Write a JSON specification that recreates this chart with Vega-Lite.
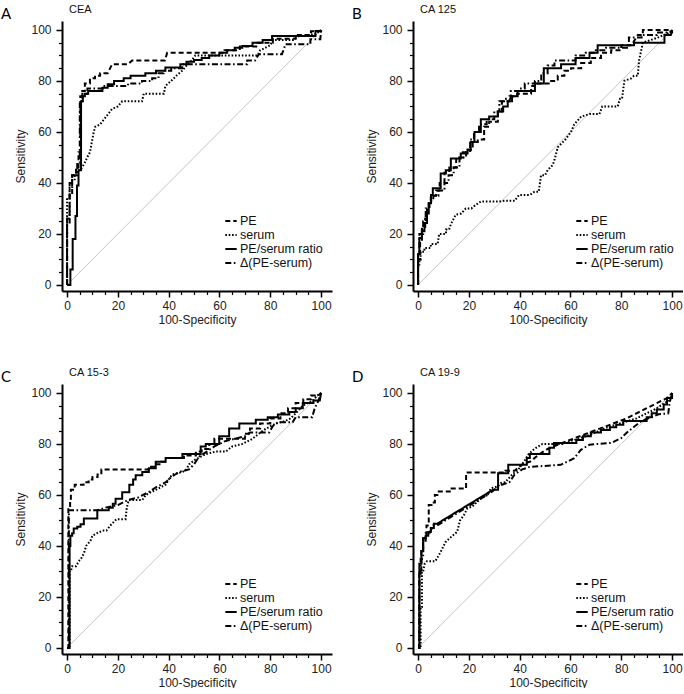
{
"$schema": "https://vega.github.io/schema/vega-lite/v6.json",
"padding": {"left": 0, "top": 4, "right": 0, "bottom": 0},
"background": "white",
"config": {"view": {"stroke": null}, "font": "Liberation Sans"},
"datasets": {
"roc": [
{"p":"A","s":"PE","x":0,"y":0},{"p":"A","s":"PE","x":0,"y":24},{"p":"A","s":"PE","x":1,"y":24},{"p":"A","s":"PE","x":1,"y":35},{"p":"A","s":"PE","x":2,"y":35},{"p":"A","s":"PE","x":2,"y":43},{"p":"A","s":"PE","x":3.5,"y":43},{"p":"A","s":"PE","x":3.5,"y":46},{"p":"A","s":"PE","x":4.5,"y":46},{"p":"A","s":"PE","x":4.5,"y":52},{"p":"A","s":"PE","x":5.2,"y":52},{"p":"A","s":"PE","x":5.2,"y":74},{"p":"A","s":"PE","x":6,"y":74},{"p":"A","s":"PE","x":6,"y":76},{"p":"A","s":"PE","x":7,"y":76},{"p":"A","s":"PE","x":7,"y":79},{"p":"A","s":"PE","x":9,"y":79},{"p":"A","s":"PE","x":9,"y":81},{"p":"A","s":"PE","x":11,"y":81},{"p":"A","s":"PE","x":11,"y":82},{"p":"A","s":"PE","x":13,"y":82},{"p":"A","s":"PE","x":13,"y":83},{"p":"A","s":"PE","x":16,"y":83},{"p":"A","s":"PE","x":17.7,"y":86.5},{"p":"A","s":"PE","x":24,"y":86.5},{"p":"A","s":"PE","x":25.6,"y":88},{"p":"A","s":"PE","x":38.5,"y":88},{"p":"A","s":"PE","x":39.4,"y":91},{"p":"A","s":"PE","x":62,"y":91},{"p":"A","s":"PE","x":62,"y":92},{"p":"A","s":"PE","x":68,"y":92},{"p":"A","s":"PE","x":68,"y":93.5},{"p":"A","s":"PE","x":75,"y":93.5},{"p":"A","s":"PE","x":75,"y":95},{"p":"A","s":"PE","x":81,"y":95},{"p":"A","s":"PE","x":81,"y":96.5},{"p":"A","s":"PE","x":90,"y":96.5},{"p":"A","s":"PE","x":90,"y":98},{"p":"A","s":"PE","x":96,"y":98},{"p":"A","s":"PE","x":96,"y":99.5},{"p":"A","s":"PE","x":100,"y":99.5},{"p":"A","s":"PE","x":100,"y":100},
{"p":"A","s":"serum","x":0,"y":0},{"p":"A","s":"serum","x":0,"y":34},{"p":"A","s":"serum","x":1,"y":34},{"p":"A","s":"serum","x":1,"y":38},{"p":"A","s":"serum","x":2,"y":38},{"p":"A","s":"serum","x":2,"y":41},{"p":"A","s":"serum","x":3,"y":41},{"p":"A","s":"serum","x":3,"y":43},{"p":"A","s":"serum","x":4,"y":43},{"p":"A","s":"serum","x":4,"y":45},{"p":"A","s":"serum","x":5,"y":45},{"p":"A","s":"serum","x":5.9,"y":46},{"p":"A","s":"serum","x":7,"y":48},{"p":"A","s":"serum","x":7.9,"y":50},{"p":"A","s":"serum","x":9,"y":52},{"p":"A","s":"serum","x":10.5,"y":60},{"p":"A","s":"serum","x":11.1,"y":62},{"p":"A","s":"serum","x":13,"y":63},{"p":"A","s":"serum","x":15,"y":65.5},{"p":"A","s":"serum","x":17.7,"y":69},{"p":"A","s":"serum","x":20,"y":70},{"p":"A","s":"serum","x":21.7,"y":72},{"p":"A","s":"serum","x":29.5,"y":72},{"p":"A","s":"serum","x":30.2,"y":75},{"p":"A","s":"serum","x":38.1,"y":75},{"p":"A","s":"serum","x":38.7,"y":78},{"p":"A","s":"serum","x":41,"y":80},{"p":"A","s":"serum","x":43,"y":82},{"p":"A","s":"serum","x":45.3,"y":84},{"p":"A","s":"serum","x":47,"y":86},{"p":"A","s":"serum","x":49,"y":88},{"p":"A","s":"serum","x":50.5,"y":90},{"p":"A","s":"serum","x":75,"y":90},{"p":"A","s":"serum","x":76,"y":92},{"p":"A","s":"serum","x":78,"y":93},{"p":"A","s":"serum","x":80,"y":94},{"p":"A","s":"serum","x":81,"y":96},{"p":"A","s":"serum","x":89,"y":96},{"p":"A","s":"serum","x":91,"y":97.5},{"p":"A","s":"serum","x":95,"y":98},{"p":"A","s":"serum","x":98,"y":98.5},{"p":"A","s":"serum","x":100,"y":100},
{"p":"A","s":"PE/serum ratio","x":0,"y":0},{"p":"A","s":"PE/serum ratio","x":1.3,"y":0},{"p":"A","s":"PE/serum ratio","x":1.3,"y":6},{"p":"A","s":"PE/serum ratio","x":2.2,"y":6},{"p":"A","s":"PE/serum ratio","x":2.2,"y":18},{"p":"A","s":"PE/serum ratio","x":3.3,"y":18},{"p":"A","s":"PE/serum ratio","x":3.3,"y":27},{"p":"A","s":"PE/serum ratio","x":3.9,"y":27},{"p":"A","s":"PE/serum ratio","x":3.9,"y":39},{"p":"A","s":"PE/serum ratio","x":4.5,"y":39},{"p":"A","s":"PE/serum ratio","x":4.5,"y":45},{"p":"A","s":"PE/serum ratio","x":5.5,"y":45},{"p":"A","s":"PE/serum ratio","x":5.5,"y":72},{"p":"A","s":"PE/serum ratio","x":6.2,"y":72},{"p":"A","s":"PE/serum ratio","x":6.2,"y":74},{"p":"A","s":"PE/serum ratio","x":7,"y":74},{"p":"A","s":"PE/serum ratio","x":7,"y":75},{"p":"A","s":"PE/serum ratio","x":8.3,"y":75},{"p":"A","s":"PE/serum ratio","x":8.3,"y":76},{"p":"A","s":"PE/serum ratio","x":13.9,"y":76},{"p":"A","s":"PE/serum ratio","x":13.9,"y":77.3},{"p":"A","s":"PE/serum ratio","x":16,"y":77.3},{"p":"A","s":"PE/serum ratio","x":16,"y":78.7},{"p":"A","s":"PE/serum ratio","x":18.5,"y":78.7},{"p":"A","s":"PE/serum ratio","x":18.5,"y":80},{"p":"A","s":"PE/serum ratio","x":22.3,"y":80},{"p":"A","s":"PE/serum ratio","x":22.3,"y":81},{"p":"A","s":"PE/serum ratio","x":25,"y":81},{"p":"A","s":"PE/serum ratio","x":25,"y":82},{"p":"A","s":"PE/serum ratio","x":30.8,"y":82},{"p":"A","s":"PE/serum ratio","x":30.8,"y":83},{"p":"A","s":"PE/serum ratio","x":35,"y":83},{"p":"A","s":"PE/serum ratio","x":35,"y":84},{"p":"A","s":"PE/serum ratio","x":38.7,"y":84},{"p":"A","s":"PE/serum ratio","x":38.7,"y":85.3},{"p":"A","s":"PE/serum ratio","x":44.6,"y":85.3},{"p":"A","s":"PE/serum ratio","x":44.6,"y":86.5},{"p":"A","s":"PE/serum ratio","x":47,"y":86.5},{"p":"A","s":"PE/serum ratio","x":47,"y":87.5},{"p":"A","s":"PE/serum ratio","x":50,"y":87.5},{"p":"A","s":"PE/serum ratio","x":50,"y":88.2},{"p":"A","s":"PE/serum ratio","x":53,"y":88.2},{"p":"A","s":"PE/serum ratio","x":53,"y":89},{"p":"A","s":"PE/serum ratio","x":56,"y":89},{"p":"A","s":"PE/serum ratio","x":56,"y":90},{"p":"A","s":"PE/serum ratio","x":60,"y":90},{"p":"A","s":"PE/serum ratio","x":60,"y":91},{"p":"A","s":"PE/serum ratio","x":63,"y":91},{"p":"A","s":"PE/serum ratio","x":63,"y":92},{"p":"A","s":"PE/serum ratio","x":66,"y":92},{"p":"A","s":"PE/serum ratio","x":66,"y":93},{"p":"A","s":"PE/serum ratio","x":69,"y":93},{"p":"A","s":"PE/serum ratio","x":69,"y":93.7},{"p":"A","s":"PE/serum ratio","x":73,"y":93.7},{"p":"A","s":"PE/serum ratio","x":73,"y":95},{"p":"A","s":"PE/serum ratio","x":77,"y":95},{"p":"A","s":"PE/serum ratio","x":77,"y":96},{"p":"A","s":"PE/serum ratio","x":80.7,"y":96},{"p":"A","s":"PE/serum ratio","x":80.7,"y":97.6},{"p":"A","s":"PE/serum ratio","x":97.8,"y":97.6},{"p":"A","s":"PE/serum ratio","x":97.8,"y":99.6},{"p":"A","s":"PE/serum ratio","x":100,"y":99.6},{"p":"A","s":"PE/serum ratio","x":100,"y":100},
{"p":"A","s":"Δ(PE-serum)","x":0,"y":0},{"p":"A","s":"Δ(PE-serum)","x":0,"y":26},{"p":"A","s":"Δ(PE-serum)","x":1,"y":26},{"p":"A","s":"Δ(PE-serum)","x":1,"y":40},{"p":"A","s":"Δ(PE-serum)","x":2,"y":40},{"p":"A","s":"Δ(PE-serum)","x":2,"y":43},{"p":"A","s":"Δ(PE-serum)","x":4,"y":43},{"p":"A","s":"Δ(PE-serum)","x":4,"y":48},{"p":"A","s":"Δ(PE-serum)","x":5,"y":48},{"p":"A","s":"Δ(PE-serum)","x":5,"y":72},{"p":"A","s":"Δ(PE-serum)","x":6,"y":72},{"p":"A","s":"Δ(PE-serum)","x":6,"y":75},{"p":"A","s":"Δ(PE-serum)","x":8,"y":75},{"p":"A","s":"Δ(PE-serum)","x":8,"y":77},{"p":"A","s":"Δ(PE-serum)","x":14,"y":77},{"p":"A","s":"Δ(PE-serum)","x":14,"y":78},{"p":"A","s":"Δ(PE-serum)","x":24,"y":78},{"p":"A","s":"Δ(PE-serum)","x":24,"y":79},{"p":"A","s":"Δ(PE-serum)","x":29.5,"y":79},{"p":"A","s":"Δ(PE-serum)","x":29.5,"y":80},{"p":"A","s":"Δ(PE-serum)","x":33.5,"y":80},{"p":"A","s":"Δ(PE-serum)","x":33.5,"y":81},{"p":"A","s":"Δ(PE-serum)","x":36,"y":81},{"p":"A","s":"Δ(PE-serum)","x":36,"y":83},{"p":"A","s":"Δ(PE-serum)","x":38,"y":83},{"p":"A","s":"Δ(PE-serum)","x":38,"y":84},{"p":"A","s":"Δ(PE-serum)","x":41,"y":84},{"p":"A","s":"Δ(PE-serum)","x":41,"y":85},{"p":"A","s":"Δ(PE-serum)","x":45.3,"y":85},{"p":"A","s":"Δ(PE-serum)","x":45.3,"y":86.5},{"p":"A","s":"Δ(PE-serum)","x":70.9,"y":86.5},{"p":"A","s":"Δ(PE-serum)","x":70.9,"y":88},{"p":"A","s":"Δ(PE-serum)","x":74,"y":88},{"p":"A","s":"Δ(PE-serum)","x":75.5,"y":90.5},{"p":"A","s":"Δ(PE-serum)","x":84.6,"y":90.5},{"p":"A","s":"Δ(PE-serum)","x":86,"y":94.4},{"p":"A","s":"Δ(PE-serum)","x":95.8,"y":94.4},{"p":"A","s":"Δ(PE-serum)","x":95.8,"y":96.3},{"p":"A","s":"Δ(PE-serum)","x":99.7,"y":96.3},{"p":"A","s":"Δ(PE-serum)","x":100,"y":100},

{"p":"B","s":"PE","x":0,"y":0},{"p":"B","s":"PE","x":0,"y":10},{"p":"B","s":"PE","x":0.8,"y":10},{"p":"B","s":"PE","x":0.8,"y":17},{"p":"B","s":"PE","x":1.5,"y":17},{"p":"B","s":"PE","x":1.5,"y":22},{"p":"B","s":"PE","x":2.8,"y":22},{"p":"B","s":"PE","x":2.8,"y":26},{"p":"B","s":"PE","x":3.5,"y":26},{"p":"B","s":"PE","x":3.5,"y":30},{"p":"B","s":"PE","x":4.2,"y":30},{"p":"B","s":"PE","x":4.2,"y":33},{"p":"B","s":"PE","x":5,"y":33},{"p":"B","s":"PE","x":5,"y":35},{"p":"B","s":"PE","x":7.1,"y":35},{"p":"B","s":"PE","x":7.1,"y":37},{"p":"B","s":"PE","x":8.5,"y":37},{"p":"B","s":"PE","x":8.5,"y":40},{"p":"B","s":"PE","x":10.4,"y":40},{"p":"B","s":"PE","x":10.4,"y":44},{"p":"B","s":"PE","x":12.3,"y":44},{"p":"B","s":"PE","x":12.3,"y":46},{"p":"B","s":"PE","x":15,"y":46},{"p":"B","s":"PE","x":15,"y":50},{"p":"B","s":"PE","x":17.6,"y":50},{"p":"B","s":"PE","x":17.6,"y":52},{"p":"B","s":"PE","x":19.5,"y":52},{"p":"B","s":"PE","x":19.5,"y":53},{"p":"B","s":"PE","x":21.5,"y":53},{"p":"B","s":"PE","x":21.5,"y":56},{"p":"B","s":"PE","x":23.5,"y":56},{"p":"B","s":"PE","x":23.5,"y":57},{"p":"B","s":"PE","x":26,"y":57},{"p":"B","s":"PE","x":26,"y":62},{"p":"B","s":"PE","x":28,"y":62},{"p":"B","s":"PE","x":28,"y":64},{"p":"B","s":"PE","x":31.4,"y":64},{"p":"B","s":"PE","x":31.4,"y":68},{"p":"B","s":"PE","x":33,"y":68},{"p":"B","s":"PE","x":33,"y":72},{"p":"B","s":"PE","x":36,"y":72},{"p":"B","s":"PE","x":36,"y":74},{"p":"B","s":"PE","x":39,"y":74},{"p":"B","s":"PE","x":39,"y":75},{"p":"B","s":"PE","x":44.5,"y":75},{"p":"B","s":"PE","x":44.5,"y":78},{"p":"B","s":"PE","x":46,"y":78},{"p":"B","s":"PE","x":46,"y":79},{"p":"B","s":"PE","x":52.4,"y":79},{"p":"B","s":"PE","x":52.4,"y":80},{"p":"B","s":"PE","x":55,"y":80},{"p":"B","s":"PE","x":55,"y":82},{"p":"B","s":"PE","x":57.6,"y":82},{"p":"B","s":"PE","x":57.6,"y":84},{"p":"B","s":"PE","x":60.2,"y":84},{"p":"B","s":"PE","x":60.2,"y":85},{"p":"B","s":"PE","x":64.2,"y":85},{"p":"B","s":"PE","x":64.2,"y":87},{"p":"B","s":"PE","x":68,"y":87},{"p":"B","s":"PE","x":68,"y":89},{"p":"B","s":"PE","x":72,"y":89},{"p":"B","s":"PE","x":72,"y":91},{"p":"B","s":"PE","x":76,"y":91},{"p":"B","s":"PE","x":76,"y":92},{"p":"B","s":"PE","x":80,"y":92},{"p":"B","s":"PE","x":80,"y":94},{"p":"B","s":"PE","x":84,"y":94},{"p":"B","s":"PE","x":86.5,"y":98},{"p":"B","s":"PE","x":88.5,"y":98},{"p":"B","s":"PE","x":88.5,"y":100},{"p":"B","s":"PE","x":100,"y":100},
{"p":"B","s":"serum","x":0,"y":0},{"p":"B","s":"serum","x":0,"y":8},{"p":"B","s":"serum","x":0.5,"y":8},{"p":"B","s":"serum","x":0.5,"y":10},{"p":"B","s":"serum","x":1,"y":10},{"p":"B","s":"serum","x":1,"y":13},{"p":"B","s":"serum","x":2.5,"y":13},{"p":"B","s":"serum","x":2.5,"y":14.5},{"p":"B","s":"serum","x":5,"y":14.5},{"p":"B","s":"serum","x":5,"y":16},{"p":"B","s":"serum","x":7.7,"y":16},{"p":"B","s":"serum","x":8.3,"y":20},{"p":"B","s":"serum","x":11,"y":20},{"p":"B","s":"serum","x":11,"y":21.7},{"p":"B","s":"serum","x":12.2,"y":21.7},{"p":"B","s":"serum","x":13,"y":24},{"p":"B","s":"serum","x":14.8,"y":27.5},{"p":"B","s":"serum","x":17,"y":28},{"p":"B","s":"serum","x":18.8,"y":30},{"p":"B","s":"serum","x":21,"y":30},{"p":"B","s":"serum","x":22.2,"y":31},{"p":"B","s":"serum","x":24.7,"y":32.7},{"p":"B","s":"serum","x":31.9,"y":32.7},{"p":"B","s":"serum","x":34,"y":33},{"p":"B","s":"serum","x":38,"y":33},{"p":"B","s":"serum","x":39.8,"y":35.3},{"p":"B","s":"serum","x":44,"y":35.3},{"p":"B","s":"serum","x":45.8,"y":36.5},{"p":"B","s":"serum","x":47.5,"y":36.5},{"p":"B","s":"serum","x":48.4,"y":43},{"p":"B","s":"serum","x":50,"y":43},{"p":"B","s":"serum","x":51,"y":45},{"p":"B","s":"serum","x":53,"y":47},{"p":"B","s":"serum","x":53.7,"y":49},{"p":"B","s":"serum","x":55,"y":54},{"p":"B","s":"serum","x":57,"y":56},{"p":"B","s":"serum","x":58,"y":57},{"p":"B","s":"serum","x":60.2,"y":60},{"p":"B","s":"serum","x":61.5,"y":63},{"p":"B","s":"serum","x":64.2,"y":66},{"p":"B","s":"serum","x":67.5,"y":67},{"p":"B","s":"serum","x":71.4,"y":67},{"p":"B","s":"serum","x":72.5,"y":70},{"p":"B","s":"serum","x":78.6,"y":70},{"p":"B","s":"serum","x":79.5,"y":73},{"p":"B","s":"serum","x":80.3,"y":73},{"p":"B","s":"serum","x":81.2,"y":80},{"p":"B","s":"serum","x":83.9,"y":81},{"p":"B","s":"serum","x":85,"y":82},{"p":"B","s":"serum","x":86.5,"y":82},{"p":"B","s":"serum","x":87,"y":88},{"p":"B","s":"serum","x":88.5,"y":95},{"p":"B","s":"serum","x":94.4,"y":97},{"p":"B","s":"serum","x":98,"y":98.5},{"p":"B","s":"serum","x":100,"y":100},
{"p":"B","s":"PE/serum ratio","x":0,"y":0},{"p":"B","s":"PE/serum ratio","x":0,"y":12},{"p":"B","s":"PE/serum ratio","x":0.5,"y":12},{"p":"B","s":"PE/serum ratio","x":0.5,"y":18.4},{"p":"B","s":"PE/serum ratio","x":1.5,"y":18.4},{"p":"B","s":"PE/serum ratio","x":1.5,"y":21},{"p":"B","s":"PE/serum ratio","x":2.5,"y":21},{"p":"B","s":"PE/serum ratio","x":2.5,"y":24.3},{"p":"B","s":"PE/serum ratio","x":3.5,"y":24.3},{"p":"B","s":"PE/serum ratio","x":3.5,"y":28},{"p":"B","s":"PE/serum ratio","x":4.2,"y":28},{"p":"B","s":"PE/serum ratio","x":4.2,"y":32},{"p":"B","s":"PE/serum ratio","x":5.1,"y":32},{"p":"B","s":"PE/serum ratio","x":5.1,"y":35.3},{"p":"B","s":"PE/serum ratio","x":5.8,"y":35.3},{"p":"B","s":"PE/serum ratio","x":5.8,"y":37.9},{"p":"B","s":"PE/serum ratio","x":8.9,"y":37.9},{"p":"B","s":"PE/serum ratio","x":8.9,"y":43.7},{"p":"B","s":"PE/serum ratio","x":10.9,"y":43.7},{"p":"B","s":"PE/serum ratio","x":10.9,"y":45},{"p":"B","s":"PE/serum ratio","x":12.9,"y":45},{"p":"B","s":"PE/serum ratio","x":12.9,"y":49.6},{"p":"B","s":"PE/serum ratio","x":16.8,"y":49.6},{"p":"B","s":"PE/serum ratio","x":16.8,"y":51.5},{"p":"B","s":"PE/serum ratio","x":19.5,"y":51.5},{"p":"B","s":"PE/serum ratio","x":19.5,"y":53},{"p":"B","s":"PE/serum ratio","x":20.7,"y":53},{"p":"B","s":"PE/serum ratio","x":20.7,"y":56},{"p":"B","s":"PE/serum ratio","x":22.2,"y":56},{"p":"B","s":"PE/serum ratio","x":22.2,"y":60},{"p":"B","s":"PE/serum ratio","x":24.7,"y":60},{"p":"B","s":"PE/serum ratio","x":24.7,"y":65},{"p":"B","s":"PE/serum ratio","x":28,"y":65},{"p":"B","s":"PE/serum ratio","x":28,"y":66},{"p":"B","s":"PE/serum ratio","x":31.4,"y":66},{"p":"B","s":"PE/serum ratio","x":31.4,"y":68},{"p":"B","s":"PE/serum ratio","x":33.5,"y":68},{"p":"B","s":"PE/serum ratio","x":33.5,"y":70},{"p":"B","s":"PE/serum ratio","x":35.3,"y":70},{"p":"B","s":"PE/serum ratio","x":35.3,"y":72},{"p":"B","s":"PE/serum ratio","x":37,"y":72},{"p":"B","s":"PE/serum ratio","x":37,"y":74},{"p":"B","s":"PE/serum ratio","x":39.2,"y":74},{"p":"B","s":"PE/serum ratio","x":39.2,"y":76},{"p":"B","s":"PE/serum ratio","x":46,"y":76},{"p":"B","s":"PE/serum ratio","x":46,"y":79},{"p":"B","s":"PE/serum ratio","x":49.5,"y":79},{"p":"B","s":"PE/serum ratio","x":49.5,"y":85},{"p":"B","s":"PE/serum ratio","x":56.3,"y":85},{"p":"B","s":"PE/serum ratio","x":56.3,"y":86.5},{"p":"B","s":"PE/serum ratio","x":62,"y":86.5},{"p":"B","s":"PE/serum ratio","x":62,"y":89},{"p":"B","s":"PE/serum ratio","x":67.5,"y":89},{"p":"B","s":"PE/serum ratio","x":67.5,"y":91},{"p":"B","s":"PE/serum ratio","x":70.7,"y":91},{"p":"B","s":"PE/serum ratio","x":70.7,"y":94},{"p":"B","s":"PE/serum ratio","x":85,"y":94},{"p":"B","s":"PE/serum ratio","x":85,"y":95},{"p":"B","s":"PE/serum ratio","x":97,"y":95},{"p":"B","s":"PE/serum ratio","x":97,"y":98},{"p":"B","s":"PE/serum ratio","x":99.5,"y":98},{"p":"B","s":"PE/serum ratio","x":100,"y":100},
{"p":"B","s":"Δ(PE-serum)","x":0,"y":0},{"p":"B","s":"Δ(PE-serum)","x":0,"y":12},{"p":"B","s":"Δ(PE-serum)","x":0.5,"y":12},{"p":"B","s":"Δ(PE-serum)","x":0.5,"y":20},{"p":"B","s":"Δ(PE-serum)","x":2,"y":20},{"p":"B","s":"Δ(PE-serum)","x":2,"y":25},{"p":"B","s":"Δ(PE-serum)","x":3,"y":25},{"p":"B","s":"Δ(PE-serum)","x":3,"y":30},{"p":"B","s":"Δ(PE-serum)","x":4.5,"y":30},{"p":"B","s":"Δ(PE-serum)","x":4.5,"y":33},{"p":"B","s":"Δ(PE-serum)","x":6,"y":33},{"p":"B","s":"Δ(PE-serum)","x":6,"y":35},{"p":"B","s":"Δ(PE-serum)","x":8,"y":35},{"p":"B","s":"Δ(PE-serum)","x":8,"y":37},{"p":"B","s":"Δ(PE-serum)","x":10.4,"y":37},{"p":"B","s":"Δ(PE-serum)","x":10.4,"y":40},{"p":"B","s":"Δ(PE-serum)","x":12,"y":40},{"p":"B","s":"Δ(PE-serum)","x":12,"y":43},{"p":"B","s":"Δ(PE-serum)","x":14,"y":43},{"p":"B","s":"Δ(PE-serum)","x":14,"y":46},{"p":"B","s":"Δ(PE-serum)","x":16.3,"y":46},{"p":"B","s":"Δ(PE-serum)","x":16.3,"y":50},{"p":"B","s":"Δ(PE-serum)","x":18.9,"y":50},{"p":"B","s":"Δ(PE-serum)","x":18.9,"y":52},{"p":"B","s":"Δ(PE-serum)","x":20.5,"y":52},{"p":"B","s":"Δ(PE-serum)","x":20.5,"y":57},{"p":"B","s":"Δ(PE-serum)","x":22,"y":57},{"p":"B","s":"Δ(PE-serum)","x":22,"y":60},{"p":"B","s":"Δ(PE-serum)","x":24,"y":60},{"p":"B","s":"Δ(PE-serum)","x":24,"y":63},{"p":"B","s":"Δ(PE-serum)","x":27,"y":63},{"p":"B","s":"Δ(PE-serum)","x":27,"y":65},{"p":"B","s":"Δ(PE-serum)","x":30,"y":65},{"p":"B","s":"Δ(PE-serum)","x":30,"y":68},{"p":"B","s":"Δ(PE-serum)","x":32,"y":68},{"p":"B","s":"Δ(PE-serum)","x":32,"y":72},{"p":"B","s":"Δ(PE-serum)","x":34.6,"y":72},{"p":"B","s":"Δ(PE-serum)","x":34.6,"y":73},{"p":"B","s":"Δ(PE-serum)","x":36.5,"y":73},{"p":"B","s":"Δ(PE-serum)","x":36.5,"y":76},{"p":"B","s":"Δ(PE-serum)","x":40,"y":76},{"p":"B","s":"Δ(PE-serum)","x":40,"y":77},{"p":"B","s":"Δ(PE-serum)","x":42,"y":77},{"p":"B","s":"Δ(PE-serum)","x":42,"y":79},{"p":"B","s":"Δ(PE-serum)","x":46,"y":79},{"p":"B","s":"Δ(PE-serum)","x":46,"y":80},{"p":"B","s":"Δ(PE-serum)","x":48.5,"y":80},{"p":"B","s":"Δ(PE-serum)","x":48.5,"y":83},{"p":"B","s":"Δ(PE-serum)","x":51,"y":83},{"p":"B","s":"Δ(PE-serum)","x":51,"y":86},{"p":"B","s":"Δ(PE-serum)","x":53.7,"y":86},{"p":"B","s":"Δ(PE-serum)","x":53.7,"y":88},{"p":"B","s":"Δ(PE-serum)","x":62,"y":88},{"p":"B","s":"Δ(PE-serum)","x":62,"y":90},{"p":"B","s":"Δ(PE-serum)","x":66,"y":90},{"p":"B","s":"Δ(PE-serum)","x":66,"y":91},{"p":"B","s":"Δ(PE-serum)","x":70,"y":91},{"p":"B","s":"Δ(PE-serum)","x":70,"y":92},{"p":"B","s":"Δ(PE-serum)","x":74,"y":92},{"p":"B","s":"Δ(PE-serum)","x":74,"y":93},{"p":"B","s":"Δ(PE-serum)","x":83,"y":93},{"p":"B","s":"Δ(PE-serum)","x":83,"y":97},{"p":"B","s":"Δ(PE-serum)","x":88,"y":97},{"p":"B","s":"Δ(PE-serum)","x":88,"y":98},{"p":"B","s":"Δ(PE-serum)","x":94,"y":98},{"p":"B","s":"Δ(PE-serum)","x":94,"y":99},{"p":"B","s":"Δ(PE-serum)","x":100,"y":99},{"p":"B","s":"Δ(PE-serum)","x":100,"y":100},

{"p":"C","s":"PE","x":0,"y":0},{"p":"C","s":"PE","x":0.5,"y":0},{"p":"C","s":"PE","x":0.5,"y":55},{"p":"C","s":"PE","x":1.2,"y":55},{"p":"C","s":"PE","x":1.2,"y":58},{"p":"C","s":"PE","x":1.5,"y":58},{"p":"C","s":"PE","x":1.5,"y":62},{"p":"C","s":"PE","x":3,"y":62},{"p":"C","s":"PE","x":3,"y":64},{"p":"C","s":"PE","x":6.5,"y":64},{"p":"C","s":"PE","x":6.5,"y":65},{"p":"C","s":"PE","x":8.5,"y":65},{"p":"C","s":"PE","x":8.5,"y":66},{"p":"C","s":"PE","x":10,"y":66},{"p":"C","s":"PE","x":10,"y":67},{"p":"C","s":"PE","x":12,"y":67},{"p":"C","s":"PE","x":12,"y":68},{"p":"C","s":"PE","x":13.5,"y":68},{"p":"C","s":"PE","x":13.5,"y":70},{"p":"C","s":"PE","x":32,"y":70},{"p":"C","s":"PE","x":32,"y":71},{"p":"C","s":"PE","x":35,"y":71},{"p":"C","s":"PE","x":35,"y":72},{"p":"C","s":"PE","x":37,"y":72},{"p":"C","s":"PE","x":37,"y":73},{"p":"C","s":"PE","x":39,"y":73},{"p":"C","s":"PE","x":39,"y":74.5},{"p":"C","s":"PE","x":46,"y":74.5},{"p":"C","s":"PE","x":46,"y":75.5},{"p":"C","s":"PE","x":50.7,"y":75.5},{"p":"C","s":"PE","x":50.7,"y":77},{"p":"C","s":"PE","x":53,"y":77},{"p":"C","s":"PE","x":53,"y":78},{"p":"C","s":"PE","x":56,"y":78},{"p":"C","s":"PE","x":56,"y":80},{"p":"C","s":"PE","x":58,"y":80},{"p":"C","s":"PE","x":58,"y":82},{"p":"C","s":"PE","x":70,"y":82},{"p":"C","s":"PE","x":70,"y":84},{"p":"C","s":"PE","x":72,"y":84},{"p":"C","s":"PE","x":72,"y":86},{"p":"C","s":"PE","x":76,"y":86},{"p":"C","s":"PE","x":76,"y":88},{"p":"C","s":"PE","x":80,"y":88},{"p":"C","s":"PE","x":80,"y":90},{"p":"C","s":"PE","x":84,"y":90},{"p":"C","s":"PE","x":84,"y":92},{"p":"C","s":"PE","x":87,"y":92},{"p":"C","s":"PE","x":87,"y":94},{"p":"C","s":"PE","x":90,"y":94},{"p":"C","s":"PE","x":90,"y":96},{"p":"C","s":"PE","x":93,"y":96},{"p":"C","s":"PE","x":93,"y":97.5},{"p":"C","s":"PE","x":96,"y":97.5},{"p":"C","s":"PE","x":96,"y":99},{"p":"C","s":"PE","x":99,"y":99},{"p":"C","s":"PE","x":100,"y":100},
{"p":"C","s":"serum","x":0,"y":0},{"p":"C","s":"serum","x":1,"y":0},{"p":"C","s":"serum","x":1,"y":30},{"p":"C","s":"serum","x":1.5,"y":30},{"p":"C","s":"serum","x":2,"y":32},{"p":"C","s":"serum","x":3.5,"y":32},{"p":"C","s":"serum","x":4.6,"y":34},{"p":"C","s":"serum","x":5.5,"y":35},{"p":"C","s":"serum","x":6.6,"y":37},{"p":"C","s":"serum","x":7.5,"y":40},{"p":"C","s":"serum","x":9.2,"y":42},{"p":"C","s":"serum","x":10,"y":44},{"p":"C","s":"serum","x":11.8,"y":45},{"p":"C","s":"serum","x":14,"y":46},{"p":"C","s":"serum","x":15.5,"y":46},{"p":"C","s":"serum","x":17,"y":48},{"p":"C","s":"serum","x":19,"y":50},{"p":"C","s":"serum","x":19.5,"y":50.5},{"p":"C","s":"serum","x":23,"y":50.5},{"p":"C","s":"serum","x":23.5,"y":55},{"p":"C","s":"serum","x":24.3,"y":58},{"p":"C","s":"serum","x":29.6,"y":58},{"p":"C","s":"serum","x":31,"y":60},{"p":"C","s":"serum","x":34.9,"y":62},{"p":"C","s":"serum","x":38.8,"y":64},{"p":"C","s":"serum","x":40,"y":66},{"p":"C","s":"serum","x":41.4,"y":68},{"p":"C","s":"serum","x":45.4,"y":69},{"p":"C","s":"serum","x":47,"y":70},{"p":"C","s":"serum","x":48,"y":72},{"p":"C","s":"serum","x":50.7,"y":74},{"p":"C","s":"serum","x":54.6,"y":76},{"p":"C","s":"serum","x":58.6,"y":77},{"p":"C","s":"serum","x":62.5,"y":77},{"p":"C","s":"serum","x":65,"y":79},{"p":"C","s":"serum","x":69,"y":80},{"p":"C","s":"serum","x":73,"y":82},{"p":"C","s":"serum","x":75.5,"y":84},{"p":"C","s":"serum","x":78.3,"y":86},{"p":"C","s":"serum","x":82.2,"y":88},{"p":"C","s":"serum","x":86,"y":89},{"p":"C","s":"serum","x":88,"y":90},{"p":"C","s":"serum","x":90,"y":92},{"p":"C","s":"serum","x":92.8,"y":95},{"p":"C","s":"serum","x":96.7,"y":97},{"p":"C","s":"serum","x":98.5,"y":99},{"p":"C","s":"serum","x":100,"y":100},
{"p":"C","s":"PE/serum ratio","x":0,"y":0},{"p":"C","s":"PE/serum ratio","x":1,"y":0},{"p":"C","s":"PE/serum ratio","x":1,"y":40},{"p":"C","s":"PE/serum ratio","x":1.3,"y":40},{"p":"C","s":"PE/serum ratio","x":1.3,"y":44},{"p":"C","s":"PE/serum ratio","x":2,"y":44},{"p":"C","s":"PE/serum ratio","x":2,"y":45},{"p":"C","s":"PE/serum ratio","x":2.6,"y":45},{"p":"C","s":"PE/serum ratio","x":2.6,"y":46.8},{"p":"C","s":"PE/serum ratio","x":4,"y":46.8},{"p":"C","s":"PE/serum ratio","x":4,"y":47.5},{"p":"C","s":"PE/serum ratio","x":5.3,"y":47.5},{"p":"C","s":"PE/serum ratio","x":5.3,"y":48.5},{"p":"C","s":"PE/serum ratio","x":6.6,"y":48.5},{"p":"C","s":"PE/serum ratio","x":6.6,"y":50.7},{"p":"C","s":"PE/serum ratio","x":11.9,"y":50.7},{"p":"C","s":"PE/serum ratio","x":11.9,"y":54},{"p":"C","s":"PE/serum ratio","x":16.4,"y":54},{"p":"C","s":"PE/serum ratio","x":16.4,"y":55},{"p":"C","s":"PE/serum ratio","x":18,"y":55},{"p":"C","s":"PE/serum ratio","x":18,"y":56.5},{"p":"C","s":"PE/serum ratio","x":19.1,"y":56.5},{"p":"C","s":"PE/serum ratio","x":19.1,"y":58.5},{"p":"C","s":"PE/serum ratio","x":21.7,"y":58.5},{"p":"C","s":"PE/serum ratio","x":21.7,"y":61},{"p":"C","s":"PE/serum ratio","x":24.5,"y":61},{"p":"C","s":"PE/serum ratio","x":24.5,"y":64},{"p":"C","s":"PE/serum ratio","x":26,"y":64},{"p":"C","s":"PE/serum ratio","x":26,"y":66},{"p":"C","s":"PE/serum ratio","x":27,"y":66},{"p":"C","s":"PE/serum ratio","x":27,"y":67.7},{"p":"C","s":"PE/serum ratio","x":29.6,"y":67.7},{"p":"C","s":"PE/serum ratio","x":29.6,"y":69},{"p":"C","s":"PE/serum ratio","x":32.2,"y":69},{"p":"C","s":"PE/serum ratio","x":32.2,"y":70.5},{"p":"C","s":"PE/serum ratio","x":34.9,"y":70.5},{"p":"C","s":"PE/serum ratio","x":34.9,"y":73},{"p":"C","s":"PE/serum ratio","x":38.8,"y":73},{"p":"C","s":"PE/serum ratio","x":38.8,"y":74.5},{"p":"C","s":"PE/serum ratio","x":45.4,"y":74.5},{"p":"C","s":"PE/serum ratio","x":45.4,"y":76},{"p":"C","s":"PE/serum ratio","x":52.6,"y":76},{"p":"C","s":"PE/serum ratio","x":52.6,"y":79},{"p":"C","s":"PE/serum ratio","x":54.6,"y":79},{"p":"C","s":"PE/serum ratio","x":54.6,"y":80},{"p":"C","s":"PE/serum ratio","x":59.9,"y":80},{"p":"C","s":"PE/serum ratio","x":59.9,"y":83},{"p":"C","s":"PE/serum ratio","x":63.8,"y":83},{"p":"C","s":"PE/serum ratio","x":63.8,"y":86},{"p":"C","s":"PE/serum ratio","x":67.8,"y":86},{"p":"C","s":"PE/serum ratio","x":67.8,"y":88},{"p":"C","s":"PE/serum ratio","x":74.3,"y":88},{"p":"C","s":"PE/serum ratio","x":74.3,"y":89.5},{"p":"C","s":"PE/serum ratio","x":79,"y":89.5},{"p":"C","s":"PE/serum ratio","x":79,"y":90.5},{"p":"C","s":"PE/serum ratio","x":83,"y":90.5},{"p":"C","s":"PE/serum ratio","x":83,"y":91.5},{"p":"C","s":"PE/serum ratio","x":87.5,"y":91.5},{"p":"C","s":"PE/serum ratio","x":87.5,"y":92.5},{"p":"C","s":"PE/serum ratio","x":90,"y":92.5},{"p":"C","s":"PE/serum ratio","x":90,"y":94},{"p":"C","s":"PE/serum ratio","x":92.8,"y":94},{"p":"C","s":"PE/serum ratio","x":92.8,"y":96},{"p":"C","s":"PE/serum ratio","x":97,"y":96},{"p":"C","s":"PE/serum ratio","x":97,"y":97},{"p":"C","s":"PE/serum ratio","x":99.5,"y":97},{"p":"C","s":"PE/serum ratio","x":100,"y":100},
{"p":"C","s":"Δ(PE-serum)","x":0,"y":0},{"p":"C","s":"Δ(PE-serum)","x":0.7,"y":0},{"p":"C","s":"Δ(PE-serum)","x":0.7,"y":54},{"p":"C","s":"Δ(PE-serum)","x":11.9,"y":54},{"p":"C","s":"Δ(PE-serum)","x":15,"y":55},{"p":"C","s":"Δ(PE-serum)","x":20,"y":56},{"p":"C","s":"Δ(PE-serum)","x":24,"y":58},{"p":"C","s":"Δ(PE-serum)","x":28,"y":59},{"p":"C","s":"Δ(PE-serum)","x":32.3,"y":61.2},{"p":"C","s":"Δ(PE-serum)","x":35,"y":63},{"p":"C","s":"Δ(PE-serum)","x":38.9,"y":65},{"p":"C","s":"Δ(PE-serum)","x":41,"y":67},{"p":"C","s":"Δ(PE-serum)","x":44.1,"y":69},{"p":"C","s":"Δ(PE-serum)","x":48,"y":70},{"p":"C","s":"Δ(PE-serum)","x":50,"y":72},{"p":"C","s":"Δ(PE-serum)","x":52,"y":75},{"p":"C","s":"Δ(PE-serum)","x":55,"y":77},{"p":"C","s":"Δ(PE-serum)","x":58,"y":79},{"p":"C","s":"Δ(PE-serum)","x":62,"y":81},{"p":"C","s":"Δ(PE-serum)","x":66,"y":82},{"p":"C","s":"Δ(PE-serum)","x":70,"y":83},{"p":"C","s":"Δ(PE-serum)","x":72,"y":84.5},{"p":"C","s":"Δ(PE-serum)","x":79.6,"y":84.5},{"p":"C","s":"Δ(PE-serum)","x":81,"y":87},{"p":"C","s":"Δ(PE-serum)","x":83,"y":88.5},{"p":"C","s":"Δ(PE-serum)","x":88.8,"y":88.5},{"p":"C","s":"Δ(PE-serum)","x":90,"y":90.5},{"p":"C","s":"Δ(PE-serum)","x":96.5,"y":90.5},{"p":"C","s":"Δ(PE-serum)","x":97.5,"y":94},{"p":"C","s":"Δ(PE-serum)","x":99,"y":97},{"p":"C","s":"Δ(PE-serum)","x":100,"y":100},

{"p":"D","s":"PE","x":0,"y":0},{"p":"D","s":"PE","x":0.5,"y":0},{"p":"D","s":"PE","x":0.5,"y":30},{"p":"D","s":"PE","x":1.3,"y":30},{"p":"D","s":"PE","x":1.3,"y":38},{"p":"D","s":"PE","x":2,"y":38},{"p":"D","s":"PE","x":2,"y":43},{"p":"D","s":"PE","x":3.3,"y":43},{"p":"D","s":"PE","x":3.3,"y":48},{"p":"D","s":"PE","x":4.2,"y":48},{"p":"D","s":"PE","x":4.2,"y":56},{"p":"D","s":"PE","x":5.3,"y":56},{"p":"D","s":"PE","x":5.3,"y":57},{"p":"D","s":"PE","x":6.6,"y":57},{"p":"D","s":"PE","x":6.6,"y":60},{"p":"D","s":"PE","x":7.6,"y":60},{"p":"D","s":"PE","x":7.6,"y":61.3},{"p":"D","s":"PE","x":13.2,"y":61.3},{"p":"D","s":"PE","x":13.2,"y":62.5},{"p":"D","s":"PE","x":18.9,"y":62.5},{"p":"D","s":"PE","x":18.9,"y":68.8},{"p":"D","s":"PE","x":34.4,"y":68.8},{"p":"D","s":"PE","x":34.4,"y":69.5},{"p":"D","s":"PE","x":38,"y":69.5},{"p":"D","s":"PE","x":41,"y":72},{"p":"D","s":"PE","x":44.2,"y":73.1},{"p":"D","s":"PE","x":47.7,"y":76},{"p":"D","s":"PE","x":51,"y":78},{"p":"D","s":"PE","x":55.6,"y":80},{"p":"D","s":"PE","x":61,"y":82},{"p":"D","s":"PE","x":66.2,"y":84},{"p":"D","s":"PE","x":71.5,"y":86},{"p":"D","s":"PE","x":76.8,"y":88},{"p":"D","s":"PE","x":82,"y":90},{"p":"D","s":"PE","x":86,"y":92},{"p":"D","s":"PE","x":90,"y":94},{"p":"D","s":"PE","x":94,"y":96},{"p":"D","s":"PE","x":98,"y":98},{"p":"D","s":"PE","x":100,"y":100},
{"p":"D","s":"serum","x":0,"y":0},{"p":"D","s":"serum","x":1,"y":0},{"p":"D","s":"serum","x":1,"y":16},{"p":"D","s":"serum","x":1.5,"y":16},{"p":"D","s":"serum","x":1.5,"y":30},{"p":"D","s":"serum","x":2,"y":30},{"p":"D","s":"serum","x":2.6,"y":33},{"p":"D","s":"serum","x":3.5,"y":34},{"p":"D","s":"serum","x":6.8,"y":34},{"p":"D","s":"serum","x":8.8,"y":37.5},{"p":"D","s":"serum","x":10.8,"y":41.5},{"p":"D","s":"serum","x":13,"y":43.5},{"p":"D","s":"serum","x":15.4,"y":45.5},{"p":"D","s":"serum","x":16.5,"y":50},{"p":"D","s":"serum","x":18,"y":52},{"p":"D","s":"serum","x":19.4,"y":54.7},{"p":"D","s":"serum","x":21.4,"y":55.5},{"p":"D","s":"serum","x":24.7,"y":58.6},{"p":"D","s":"serum","x":27.4,"y":60},{"p":"D","s":"serum","x":28.7,"y":62.6},{"p":"D","s":"serum","x":31.3,"y":63.3},{"p":"D","s":"serum","x":32.6,"y":64.6},{"p":"D","s":"serum","x":34.4,"y":65},{"p":"D","s":"serum","x":37,"y":68},{"p":"D","s":"serum","x":39.5,"y":70},{"p":"D","s":"serum","x":41.7,"y":73},{"p":"D","s":"serum","x":43.5,"y":76},{"p":"D","s":"serum","x":45.7,"y":78},{"p":"D","s":"serum","x":49,"y":80},{"p":"D","s":"serum","x":57,"y":80},{"p":"D","s":"serum","x":59.6,"y":81},{"p":"D","s":"serum","x":63,"y":82},{"p":"D","s":"serum","x":68.9,"y":84},{"p":"D","s":"serum","x":73,"y":86},{"p":"D","s":"serum","x":79.5,"y":88},{"p":"D","s":"serum","x":86,"y":90},{"p":"D","s":"serum","x":90,"y":92},{"p":"D","s":"serum","x":94,"y":94},{"p":"D","s":"serum","x":97,"y":96},{"p":"D","s":"serum","x":99,"y":97},{"p":"D","s":"serum","x":100,"y":100},
{"p":"D","s":"PE/serum ratio","x":0,"y":0},{"p":"D","s":"PE/serum ratio","x":0.5,"y":0},{"p":"D","s":"PE/serum ratio","x":0.5,"y":33},{"p":"D","s":"PE/serum ratio","x":1.3,"y":33},{"p":"D","s":"PE/serum ratio","x":1.3,"y":38},{"p":"D","s":"PE/serum ratio","x":2,"y":38},{"p":"D","s":"PE/serum ratio","x":2,"y":43},{"p":"D","s":"PE/serum ratio","x":3,"y":43},{"p":"D","s":"PE/serum ratio","x":3,"y":44},{"p":"D","s":"PE/serum ratio","x":4,"y":44},{"p":"D","s":"PE/serum ratio","x":4,"y":45.5},{"p":"D","s":"PE/serum ratio","x":5,"y":45.5},{"p":"D","s":"PE/serum ratio","x":5,"y":47},{"p":"D","s":"PE/serum ratio","x":6.2,"y":47},{"p":"D","s":"PE/serum ratio","x":6.2,"y":48.7},{"p":"D","s":"PE/serum ratio","x":7.5,"y":48.7},{"p":"D","s":"PE/serum ratio","x":29.5,"y":62},{"p":"D","s":"PE/serum ratio","x":31.5,"y":62},{"p":"D","s":"PE/serum ratio","x":31.5,"y":68.5},{"p":"D","s":"PE/serum ratio","x":35.5,"y":68.5},{"p":"D","s":"PE/serum ratio","x":35.5,"y":71.8},{"p":"D","s":"PE/serum ratio","x":42.8,"y":71.8},{"p":"D","s":"PE/serum ratio","x":42.8,"y":74.5},{"p":"D","s":"PE/serum ratio","x":44,"y":74.5},{"p":"D","s":"PE/serum ratio","x":44,"y":76},{"p":"D","s":"PE/serum ratio","x":51.7,"y":76},{"p":"D","s":"PE/serum ratio","x":51.7,"y":78.5},{"p":"D","s":"PE/serum ratio","x":53.5,"y":78.5},{"p":"D","s":"PE/serum ratio","x":53.5,"y":80.4},{"p":"D","s":"PE/serum ratio","x":62.3,"y":80.4},{"p":"D","s":"PE/serum ratio","x":62.3,"y":81.5},{"p":"D","s":"PE/serum ratio","x":64.9,"y":81.5},{"p":"D","s":"PE/serum ratio","x":64.9,"y":83},{"p":"D","s":"PE/serum ratio","x":68,"y":83},{"p":"D","s":"PE/serum ratio","x":68,"y":84.5},{"p":"D","s":"PE/serum ratio","x":72,"y":84.5},{"p":"D","s":"PE/serum ratio","x":72,"y":85.5},{"p":"D","s":"PE/serum ratio","x":75.5,"y":85.5},{"p":"D","s":"PE/serum ratio","x":75.5,"y":86.5},{"p":"D","s":"PE/serum ratio","x":78,"y":86.5},{"p":"D","s":"PE/serum ratio","x":78,"y":87.5},{"p":"D","s":"PE/serum ratio","x":80.8,"y":87.5},{"p":"D","s":"PE/serum ratio","x":80.8,"y":89},{"p":"D","s":"PE/serum ratio","x":90,"y":89},{"p":"D","s":"PE/serum ratio","x":90,"y":90.5},{"p":"D","s":"PE/serum ratio","x":92,"y":90.5},{"p":"D","s":"PE/serum ratio","x":92,"y":92},{"p":"D","s":"PE/serum ratio","x":94,"y":92},{"p":"D","s":"PE/serum ratio","x":94,"y":93.5},{"p":"D","s":"PE/serum ratio","x":96.7,"y":93.5},{"p":"D","s":"PE/serum ratio","x":96.7,"y":95.5},{"p":"D","s":"PE/serum ratio","x":98,"y":95.5},{"p":"D","s":"PE/serum ratio","x":98,"y":98},{"p":"D","s":"PE/serum ratio","x":100,"y":98},{"p":"D","s":"PE/serum ratio","x":100,"y":100},
{"p":"D","s":"Δ(PE-serum)","x":0,"y":0},{"p":"D","s":"Δ(PE-serum)","x":0.5,"y":0},{"p":"D","s":"Δ(PE-serum)","x":0.5,"y":28},{"p":"D","s":"Δ(PE-serum)","x":1,"y":28},{"p":"D","s":"Δ(PE-serum)","x":1,"y":35},{"p":"D","s":"Δ(PE-serum)","x":2,"y":35},{"p":"D","s":"Δ(PE-serum)","x":2,"y":42},{"p":"D","s":"Δ(PE-serum)","x":3,"y":42},{"p":"D","s":"Δ(PE-serum)","x":3,"y":45},{"p":"D","s":"Δ(PE-serum)","x":4.5,"y":45},{"p":"D","s":"Δ(PE-serum)","x":6,"y":48},{"p":"D","s":"Δ(PE-serum)","x":7.5,"y":48},{"p":"D","s":"Δ(PE-serum)","x":29.5,"y":61.5},{"p":"D","s":"Δ(PE-serum)","x":31,"y":63},{"p":"D","s":"Δ(PE-serum)","x":33,"y":64},{"p":"D","s":"Δ(PE-serum)","x":36,"y":65},{"p":"D","s":"Δ(PE-serum)","x":38,"y":68},{"p":"D","s":"Δ(PE-serum)","x":41,"y":70},{"p":"D","s":"Δ(PE-serum)","x":44,"y":71},{"p":"D","s":"Δ(PE-serum)","x":56.2,"y":71.8},{"p":"D","s":"Δ(PE-serum)","x":61.5,"y":74.4},{"p":"D","s":"Δ(PE-serum)","x":64.1,"y":77.7},{"p":"D","s":"Δ(PE-serum)","x":67.5,"y":79.7},{"p":"D","s":"Δ(PE-serum)","x":76.1,"y":80.4},{"p":"D","s":"Δ(PE-serum)","x":80,"y":82.3},{"p":"D","s":"Δ(PE-serum)","x":82,"y":84.3},{"p":"D","s":"Δ(PE-serum)","x":85.4,"y":87},{"p":"D","s":"Δ(PE-serum)","x":88,"y":89},{"p":"D","s":"Δ(PE-serum)","x":94.7,"y":91.6},{"p":"D","s":"Δ(PE-serum)","x":98.5,"y":92},{"p":"D","s":"Δ(PE-serum)","x":99,"y":96},{"p":"D","s":"Δ(PE-serum)","x":100,"y":100}
]
},
"spacing": 42,
"resolve": {"scale": {"strokeDash": "independent"}, "legend": {"strokeDash": "independent"}},
"vconcat": [
{"spacing": 19,
 "resolve": {"scale": {"strokeDash": "independent"}, "legend": {"strokeDash": "independent"}},
 "hconcat": [
 {"title": {"text": "A", "anchor": "start", "frame": "bounds", "font": "Lato", "fontSize": 15, "fontWeight": "normal", "color": "black", "dx": -14, "offset": -18},
  "resolve": {"scale": {"strokeDash": "independent"}, "legend": {"strokeDash": "independent"}},
  "vconcat": [
  {"width": 270, "height": 270,
   "title": {"text": "CEA", "anchor": "start", "frame": "group", "fontSize": 11, "fontWeight": "normal", "color": "#111", "dx": 7, "offset": 6},
   "resolve": {"axis": {"x": "independent", "y": "independent"}},
   "layer": [
    {"data": {"values": [{}]},
     "mark": {"type": "rule", "color": "#b8b8b8", "strokeWidth": 0.8},
     "encoding": {
      "x": {"datum": 0, "type": "quantitative", "scale": {"domain": [-2, 104.3], "nice": false, "zero": false}, "axis": {"orient": "bottom", "values": [5,10,15,25,30,35,45,50,55,65,70,75,85,90,95], "labels": false, "domain": false, "grid": false, "title": null, "tickSize": 3.5, "tickWidth": 1.2, "tickColor": "black"}},
      "y": {"datum": 0, "type": "quantitative", "scale": {"domain": [-2.4, 103.5], "nice": false, "zero": false}, "axis": {"orient": "left", "values": [5,10,15,25,30,35,45,50,55,65,70,75,85,90,95], "labels": false, "domain": false, "grid": false, "title": null, "tickSize": 3.5, "tickWidth": 1.2, "tickColor": "black"}},
      "x2": {"datum": 100}, "y2": {"datum": 100}}},
    {"data": {"name": "roc"},
     "transform": [{"filter": "datum.p === 'A'"}],
     "mark": {"type": "line", "color": "black", "strokeWidth": 2, "strokeCap": "butt"},
     "encoding": {
      "x": {"field": "x", "type": "quantitative", "scale": {"domain": [-2, 104.3], "nice": false, "zero": false}, "axis": {"orient": "bottom", "values": [0,20,40,60,80,100], "grid": false, "domainColor": "black", "domainWidth": 2, "tickColor": "black", "tickWidth": 1.5, "tickSize": 6, "labelFontSize": 12, "labelColor": "#222", "labelPadding": 3, "title": "100-Specificity", "titleFontSize": 12, "titleFontWeight": "normal", "titleColor": "#222", "titlePadding": 3}},
      "y": {"field": "y", "type": "quantitative", "scale": {"domain": [-2.4, 103.5], "nice": false, "zero": false}, "axis": {"orient": "left", "values": [0,20,40,60,80,100], "grid": false, "domainColor": "black", "domainWidth": 2, "tickColor": "black", "tickWidth": 1.5, "tickSize": 6, "labelFontSize": 12, "labelColor": "#222", "labelPadding": 5, "title": "Sensitivity", "titleFontSize": 12, "titleFontWeight": "normal", "titleColor": "#222", "titlePadding": 3}},
      "strokeDash": {"field": "s", "type": "nominal", "scale": {"domain": ["PE", "serum", "PE/serum ratio", "Δ(PE-serum)"], "range": [[5,3],[1.6,1.8],[1,0],[6,2.5,1.6,2.5]]}, "legend": {"orient": "none", "legendX": 162, "legendY": 193, "title": null, "symbolType": "stroke", "symbolStrokeWidth": 2, "symbolSize": 130, "symbolStrokeColor": "black", "labelFontSize": 12.5, "labelColor": "#111", "labelOffset": 2, "rowPadding": -1}},
      "order": [{"field": "x", "type": "quantitative"}, {"field": "y", "type": "quantitative"}]}}
   ]}
  ]},
 {"title": {"text": "B", "anchor": "start", "frame": "bounds", "font": "Lato", "fontSize": 15, "fontWeight": "normal", "color": "black", "dx": -14, "offset": -18},
  "resolve": {"scale": {"strokeDash": "independent"}, "legend": {"strokeDash": "independent"}},
  "vconcat": [
  {"width": 270, "height": 270,
   "title": {"text": "CA 125", "anchor": "start", "frame": "group", "fontSize": 11, "fontWeight": "normal", "color": "#111", "dx": 7, "offset": 6},
   "resolve": {"axis": {"x": "independent", "y": "independent"}},
   "layer": [
    {"data": {"values": [{}]},
     "mark": {"type": "rule", "color": "#b8b8b8", "strokeWidth": 0.8},
     "encoding": {
      "x": {"datum": 0, "type": "quantitative", "scale": {"domain": [-2, 104.3], "nice": false, "zero": false}, "axis": {"orient": "bottom", "values": [5,10,15,25,30,35,45,50,55,65,70,75,85,90,95], "labels": false, "domain": false, "grid": false, "title": null, "tickSize": 3.5, "tickWidth": 1.2, "tickColor": "black"}},
      "y": {"datum": 0, "type": "quantitative", "scale": {"domain": [-2.4, 103.5], "nice": false, "zero": false}, "axis": {"orient": "left", "values": [5,10,15,25,30,35,45,50,55,65,70,75,85,90,95], "labels": false, "domain": false, "grid": false, "title": null, "tickSize": 3.5, "tickWidth": 1.2, "tickColor": "black"}},
      "x2": {"datum": 100}, "y2": {"datum": 100}}},
    {"data": {"name": "roc"},
     "transform": [{"filter": "datum.p === 'B'"}],
     "mark": {"type": "line", "color": "black", "strokeWidth": 2, "strokeCap": "butt"},
     "encoding": {
      "x": {"field": "x", "type": "quantitative", "scale": {"domain": [-2, 104.3], "nice": false, "zero": false}, "axis": {"orient": "bottom", "values": [0,20,40,60,80,100], "grid": false, "domainColor": "black", "domainWidth": 2, "tickColor": "black", "tickWidth": 1.5, "tickSize": 6, "labelFontSize": 12, "labelColor": "#222", "labelPadding": 3, "title": "100-Specificity", "titleFontSize": 12, "titleFontWeight": "normal", "titleColor": "#222", "titlePadding": 3}},
      "y": {"field": "y", "type": "quantitative", "scale": {"domain": [-2.4, 103.5], "nice": false, "zero": false}, "axis": {"orient": "left", "values": [0,20,40,60,80,100], "grid": false, "domainColor": "black", "domainWidth": 2, "tickColor": "black", "tickWidth": 1.5, "tickSize": 6, "labelFontSize": 12, "labelColor": "#222", "labelPadding": 5, "title": "Sensitivity", "titleFontSize": 12, "titleFontWeight": "normal", "titleColor": "#222", "titlePadding": 3}},
      "strokeDash": {"field": "s", "type": "nominal", "scale": {"domain": ["PE", "serum", "PE/serum ratio", "Δ(PE-serum)"], "range": [[5,3],[1.6,1.8],[1,0],[6,2.5,1.6,2.5]]}, "legend": {"orient": "none", "legendX": 162, "legendY": 193, "title": null, "symbolType": "stroke", "symbolStrokeWidth": 2, "symbolSize": 130, "symbolStrokeColor": "black", "labelFontSize": 12.5, "labelColor": "#111", "labelOffset": 2, "rowPadding": -1}},
      "order": [{"field": "x", "type": "quantitative"}, {"field": "y", "type": "quantitative"}]}}
   ]}
  ]}
 ]},
{"spacing": 19,
 "resolve": {"scale": {"strokeDash": "independent"}, "legend": {"strokeDash": "independent"}},
 "hconcat": [
 {"title": {"text": "C", "anchor": "start", "frame": "bounds", "font": "Lato", "fontSize": 15, "fontWeight": "normal", "color": "black", "dx": -14, "offset": -18},
  "resolve": {"scale": {"strokeDash": "independent"}, "legend": {"strokeDash": "independent"}},
  "vconcat": [
  {"width": 270, "height": 270,
   "title": {"text": "CA 15-3", "anchor": "start", "frame": "group", "fontSize": 11, "fontWeight": "normal", "color": "#111", "dx": 7, "offset": 6},
   "resolve": {"axis": {"x": "independent", "y": "independent"}},
   "layer": [
    {"data": {"values": [{}]},
     "mark": {"type": "rule", "color": "#b8b8b8", "strokeWidth": 0.8},
     "encoding": {
      "x": {"datum": 0, "type": "quantitative", "scale": {"domain": [-2, 104.3], "nice": false, "zero": false}, "axis": {"orient": "bottom", "values": [5,10,15,25,30,35,45,50,55,65,70,75,85,90,95], "labels": false, "domain": false, "grid": false, "title": null, "tickSize": 3.5, "tickWidth": 1.2, "tickColor": "black"}},
      "y": {"datum": 0, "type": "quantitative", "scale": {"domain": [-2.4, 103.5], "nice": false, "zero": false}, "axis": {"orient": "left", "values": [5,10,15,25,30,35,45,50,55,65,70,75,85,90,95], "labels": false, "domain": false, "grid": false, "title": null, "tickSize": 3.5, "tickWidth": 1.2, "tickColor": "black"}},
      "x2": {"datum": 100}, "y2": {"datum": 100}}},
    {"data": {"name": "roc"},
     "transform": [{"filter": "datum.p === 'C'"}],
     "mark": {"type": "line", "color": "black", "strokeWidth": 2, "strokeCap": "butt"},
     "encoding": {
      "x": {"field": "x", "type": "quantitative", "scale": {"domain": [-2, 104.3], "nice": false, "zero": false}, "axis": {"orient": "bottom", "values": [0,20,40,60,80,100], "grid": false, "domainColor": "black", "domainWidth": 2, "tickColor": "black", "tickWidth": 1.5, "tickSize": 6, "labelFontSize": 12, "labelColor": "#222", "labelPadding": 3, "title": "100-Specificity", "titleFontSize": 12, "titleFontWeight": "normal", "titleColor": "#222", "titlePadding": 3}},
      "y": {"field": "y", "type": "quantitative", "scale": {"domain": [-2.4, 103.5], "nice": false, "zero": false}, "axis": {"orient": "left", "values": [0,20,40,60,80,100], "grid": false, "domainColor": "black", "domainWidth": 2, "tickColor": "black", "tickWidth": 1.5, "tickSize": 6, "labelFontSize": 12, "labelColor": "#222", "labelPadding": 5, "title": "Sensitivity", "titleFontSize": 12, "titleFontWeight": "normal", "titleColor": "#222", "titlePadding": 3}},
      "strokeDash": {"field": "s", "type": "nominal", "scale": {"domain": ["PE", "serum", "PE/serum ratio", "Δ(PE-serum)"], "range": [[5,3],[1.6,1.8],[1,0],[6,2.5,1.6,2.5]]}, "legend": {"orient": "none", "legendX": 162, "legendY": 193, "title": null, "symbolType": "stroke", "symbolStrokeWidth": 2, "symbolSize": 130, "symbolStrokeColor": "black", "labelFontSize": 12.5, "labelColor": "#111", "labelOffset": 2, "rowPadding": -1}},
      "order": [{"field": "x", "type": "quantitative"}, {"field": "y", "type": "quantitative"}]}}
   ]}
  ]},
 {"title": {"text": "D", "anchor": "start", "frame": "bounds", "font": "Lato", "fontSize": 15, "fontWeight": "normal", "color": "black", "dx": -14, "offset": -18},
  "resolve": {"scale": {"strokeDash": "independent"}, "legend": {"strokeDash": "independent"}},
  "vconcat": [
  {"width": 270, "height": 270,
   "title": {"text": "CA 19-9", "anchor": "start", "frame": "group", "fontSize": 11, "fontWeight": "normal", "color": "#111", "dx": 7, "offset": 6},
   "resolve": {"axis": {"x": "independent", "y": "independent"}},
   "layer": [
    {"data": {"values": [{}]},
     "mark": {"type": "rule", "color": "#b8b8b8", "strokeWidth": 0.8},
     "encoding": {
      "x": {"datum": 0, "type": "quantitative", "scale": {"domain": [-2, 104.3], "nice": false, "zero": false}, "axis": {"orient": "bottom", "values": [5,10,15,25,30,35,45,50,55,65,70,75,85,90,95], "labels": false, "domain": false, "grid": false, "title": null, "tickSize": 3.5, "tickWidth": 1.2, "tickColor": "black"}},
      "y": {"datum": 0, "type": "quantitative", "scale": {"domain": [-2.4, 103.5], "nice": false, "zero": false}, "axis": {"orient": "left", "values": [5,10,15,25,30,35,45,50,55,65,70,75,85,90,95], "labels": false, "domain": false, "grid": false, "title": null, "tickSize": 3.5, "tickWidth": 1.2, "tickColor": "black"}},
      "x2": {"datum": 100}, "y2": {"datum": 100}}},
    {"data": {"name": "roc"},
     "transform": [{"filter": "datum.p === 'D'"}],
     "mark": {"type": "line", "color": "black", "strokeWidth": 2, "strokeCap": "butt"},
     "encoding": {
      "x": {"field": "x", "type": "quantitative", "scale": {"domain": [-2, 104.3], "nice": false, "zero": false}, "axis": {"orient": "bottom", "values": [0,20,40,60,80,100], "grid": false, "domainColor": "black", "domainWidth": 2, "tickColor": "black", "tickWidth": 1.5, "tickSize": 6, "labelFontSize": 12, "labelColor": "#222", "labelPadding": 3, "title": "100-Specificity", "titleFontSize": 12, "titleFontWeight": "normal", "titleColor": "#222", "titlePadding": 3}},
      "y": {"field": "y", "type": "quantitative", "scale": {"domain": [-2.4, 103.5], "nice": false, "zero": false}, "axis": {"orient": "left", "values": [0,20,40,60,80,100], "grid": false, "domainColor": "black", "domainWidth": 2, "tickColor": "black", "tickWidth": 1.5, "tickSize": 6, "labelFontSize": 12, "labelColor": "#222", "labelPadding": 5, "title": "Sensitivity", "titleFontSize": 12, "titleFontWeight": "normal", "titleColor": "#222", "titlePadding": 3}},
      "strokeDash": {"field": "s", "type": "nominal", "scale": {"domain": ["PE", "serum", "PE/serum ratio", "Δ(PE-serum)"], "range": [[5,3],[1.6,1.8],[1,0],[6,2.5,1.6,2.5]]}, "legend": {"orient": "none", "legendX": 162, "legendY": 193, "title": null, "symbolType": "stroke", "symbolStrokeWidth": 2, "symbolSize": 130, "symbolStrokeColor": "black", "labelFontSize": 12.5, "labelColor": "#111", "labelOffset": 2, "rowPadding": -1}},
      "order": [{"field": "x", "type": "quantitative"}, {"field": "y", "type": "quantitative"}]}}
   ]}
  ]}
 ]}
]
}
